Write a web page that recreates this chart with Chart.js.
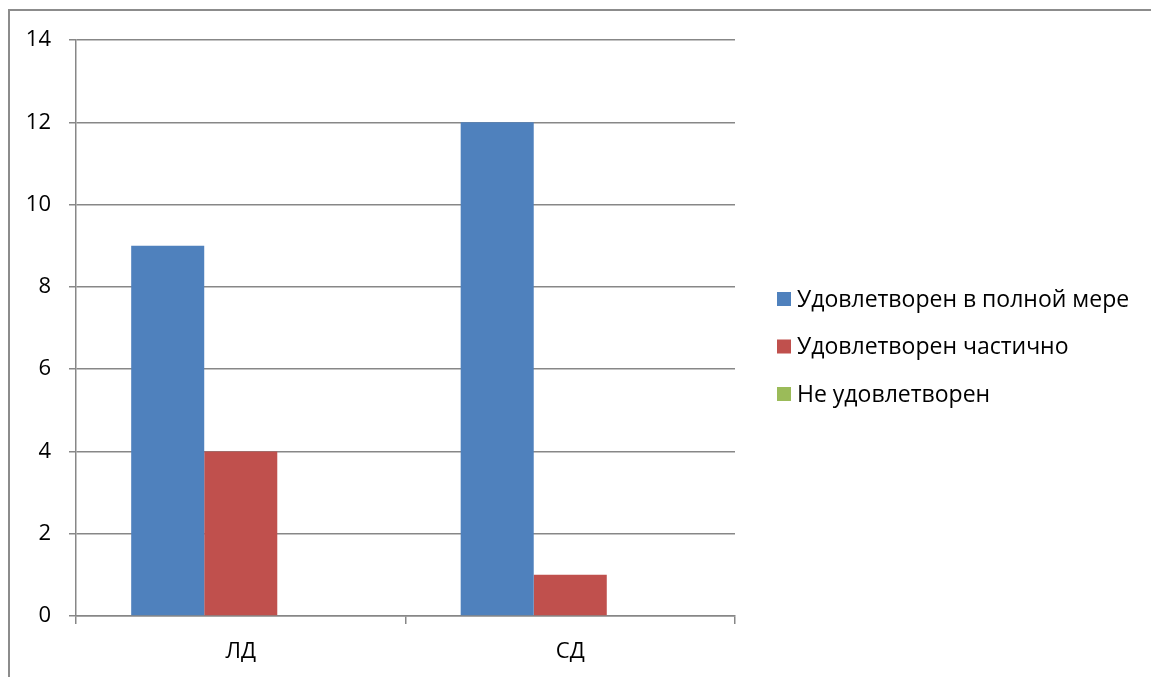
<!DOCTYPE html>
<html>
<head>
<meta charset="utf-8">
<script src="https://cdn.jsdelivr.net/npm/chart.js@4"></script>
<style>
    html, body { margin: 0; padding: 0; background: #fff; }
    #wrap { width: 1151px; height: 677px; }
</style>
</head>
<body>
<div id="wrap"><canvas id="myChart"></canvas></div>
<script>
// データ
var categories = ['ЛД', 'СД'];
var seriesNames = ['Удовлетворен в полной мере', 'Удовлетворен частично', 'Не удовлетворен'];
var fullValues = [9, 12];
var partValues = [4, 1];
var noneValues = [0, 0];
var seriesColors = ['#4F81BD', '#C0504D', '#9BBB59'];

var fontFamily = '"Open Sans", "Noto Sans", sans-serif';
var gridColor = '#878787';

// 外枠
var framePlugin = {
    id: 'frame',
    beforeDraw: function (chart) {
        var ctx = chart.ctx;
        ctx.save();
        ctx.strokeStyle = '#8c8c8c';
        ctx.lineWidth = 2;
        ctx.strokeRect(9, 10, chart.width + 20, chart.height + 20);
        ctx.restore();
    }
};

// 凡例（右側）
var legendPlugin = {
    id: 'sideLegend',
    afterDraw: function (chart) {
        var ctx = chart.ctx;
        ctx.save();
        ctx.font = '23px ' + fontFamily;
        ctx.textBaseline = 'middle';
        chart.data.datasets.forEach(function (ds, i) {
            var y = 299 + i * 47.5;
            ctx.fillStyle = ds.backgroundColor;
            ctx.fillRect(777, y - 7, 14, 14);
            ctx.fillStyle = '#000';
            ctx.fillText(ds.label, 797, y + 1);
        });
        ctx.restore();
    }
};

var ctx = document.getElementById('myChart').getContext('2d');
var config = {
    type: 'bar',
    data: {
        labels: categories,
        datasets: [
            { label: seriesNames[0], data: fullValues, backgroundColor: seriesColors[0] },
            { label: seriesNames[1], data: partValues, backgroundColor: seriesColors[1] },
            { label: seriesNames[2], data: noneValues, backgroundColor: seriesColors[2] }
        ]
    },
    options: {
        responsive: true,
        maintainAspectRatio: false,
        animation: false,
        layout: { padding: { left: 0, right: 416, top: 40, bottom: 0 } },
        datasets: { bar: { barPercentage: 1, categoryPercentage: 0.665 } },
        plugins: {
            legend: { display: false },
            tooltip: { enabled: false }
        },
        scales: {
            x: {
                grid: { drawOnChartArea: false, drawTicks: true, tickLength: 8, color: gridColor, lineWidth: 1.5 },
                border: { color: gridColor, width: 1.5 },
                ticks: { color: '#000', font: { family: fontFamily, size: 22 }, padding: 15 },
                afterFit: function (scale) { scale.height = 61; }
            },
            y: {
                min: 0,
                max: 14,
                ticks: { stepSize: 2, color: '#000', font: { family: fontFamily, size: 22 }, padding: 18 },
                grid: { color: gridColor, lineWidth: 1.5, tickLength: 7 },
                border: { color: gridColor, width: 1.5 },
                afterFit: function (scale) { scale.width = 76; }
            }
        }
    },
    plugins: [framePlugin, legendPlugin]
};
var myChart = new Chart(ctx, config);
</script>
</body>
</html>
